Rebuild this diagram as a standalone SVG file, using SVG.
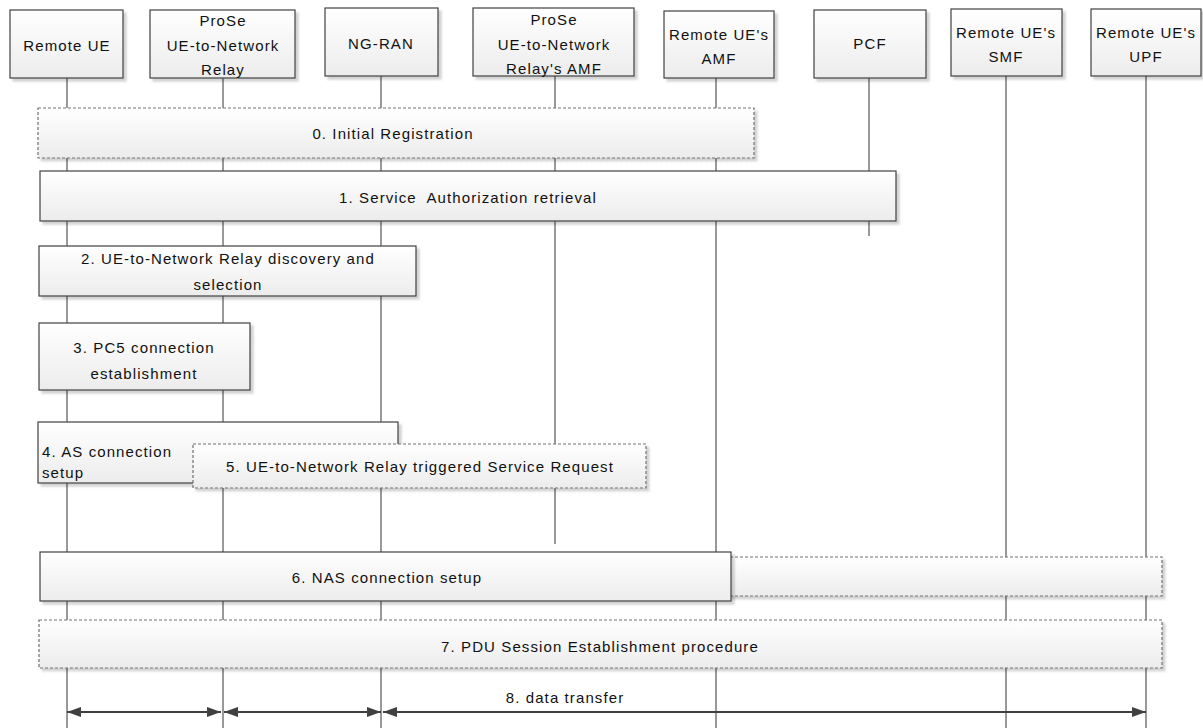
<svg xmlns="http://www.w3.org/2000/svg" width="1203" height="728" viewBox="0 0 1203 728">
<defs>
<linearGradient id="g" x1="0" y1="0" x2="0" y2="1">
<stop offset="0" stop-color="#ffffff"/>
<stop offset="1" stop-color="#ececec"/>
</linearGradient>
<filter id="sh" x="-5%" y="-10%" width="110%" height="130%">
<feDropShadow dx="3" dy="3" stdDeviation="1" flood-color="#000" flood-opacity="0.18"/>
</filter>
<marker id="ah" viewBox="0 0 14 10" refX="14" refY="5" markerWidth="14" markerHeight="10" markerUnits="userSpaceOnUse" orient="auto-start-reverse">
<path d="M0,0 L14,5 L0,10 Z" fill="#404040"/>
</marker>
</defs>
<style>
.box{fill:url(#g);stroke:#404040;stroke-width:1.2;filter:url(#sh)}
.dbox{fill:url(#g);stroke:#707070;stroke-width:1.2;stroke-dasharray:3,2;filter:url(#sh)}
.life{stroke:#555;stroke-width:1.2;fill:none}
.t{font-family:"Liberation Sans",Arial,sans-serif;font-size:15px;fill:#111;text-anchor:middle;dominant-baseline:central;letter-spacing:1.1px}
.tl{text-anchor:start}
.arr{stroke:#404040;stroke-width:2;fill:none;marker-start:url(#ah);marker-end:url(#ah)}
</style>
<rect width="1203" height="728" fill="#fff"/>
<g id="lifelines">
<line class="life" x1="67" y1="78" x2="67" y2="728"/>
<line class="life" x1="223" y1="78" x2="223" y2="728"/>
<line class="life" x1="381" y1="76" x2="381" y2="728"/>
<line class="life" x1="555" y1="76" x2="555" y2="544"/>
<line class="life" x1="716" y1="78" x2="716" y2="728"/>
<line class="life" x1="869" y1="78" x2="869" y2="236"/>
<line class="life" x1="1006" y1="76" x2="1006" y2="728"/>
<line class="life" x1="1146" y1="76" x2="1146" y2="728"/>
</g>
<g id="n_remote_ue"><rect class="box" x="10" y="10" width="113" height="68"/><text class="t" x="67" y="45">Remote UE</text></g>
<g id="n_relay"><rect class="box" x="150" y="10" width="145" height="68"/><text class="t" x="223" y="20">ProSe</text><text class="t" x="223" y="45">UE-to-Network</text><text class="t" x="223" y="69">Relay</text></g>
<g id="n_ngran"><rect class="box" x="325" y="8" width="113" height="68"/><text class="t" x="381" y="43">NG-RAN</text></g>
<g id="n_relay_amf"><rect class="box" x="473" y="8" width="161" height="68"/><text class="t" x="554" y="19">ProSe</text><text class="t" x="554" y="44">UE-to-Network</text><text class="t" x="554" y="68">Relay's AMF</text></g>
<g id="n_remote_amf"><rect class="box" x="664" y="11" width="110" height="67"/><text class="t" x="719" y="34">Remote UE's</text><text class="t" x="719" y="58">AMF</text></g>
<g id="n_pcf"><rect class="box" x="814" y="10" width="112" height="68"/><text class="t" x="870" y="43">PCF</text></g>
<g id="n_smf"><rect class="box" x="951" y="9" width="111" height="67"/><text class="t" x="1006" y="32">Remote UE's</text><text class="t" x="1006" y="56">SMF</text></g>
<g id="n_upf"><rect class="box" x="1091" y="9" width="110" height="67"/><text class="t" x="1146" y="32">Remote UE's</text><text class="t" x="1146" y="56">UPF</text></g>
<g id="s0"><rect class="dbox" x="38" y="108" width="716" height="50"/><text class="t" x="393" y="133">0. Initial Registration</text></g>
<g id="s1"><rect class="box" x="40" y="171" width="856" height="50"/><text class="t" x="468" y="197">1. Service&#160; Authorization retrieval</text></g>
<g id="s2"><rect class="box" x="39" y="246" width="377" height="50"/><text class="t" x="228" y="258">2. UE-to-Network Relay discovery and</text><text class="t" x="228" y="284">selection</text></g>
<g id="s3"><rect class="box" x="39" y="323" width="211" height="67"/><text class="t" x="144" y="347">3. PC5 connection</text><text class="t" x="144" y="373">establishment</text></g>
<g id="s4"><rect class="box" x="38" y="422" width="360" height="61"/><text class="t tl" x="42" y="451">4. AS connection</text><text class="t tl" x="42" y="472">setup</text></g>
<g id="s5"><rect class="dbox" x="193" y="444" width="453" height="44"/><text class="t" x="420" y="466">5. UE-to-Network Relay triggered Service Request</text></g>
<g id="s6"><rect class="dbox" x="720" y="557" width="442" height="39"/><rect class="box" x="40" y="552" width="691" height="49"/><text class="t" x="387" y="577">6. NAS connection setup</text></g>
<g id="s7"><rect class="dbox" x="39" y="620" width="1123" height="48"/><text class="t" x="600" y="646">7. PDU Session Establishment procedure</text></g>
<g id="connectors">
<line class="arr" x1="67" y1="712" x2="221" y2="712"/>
<line class="arr" x1="224" y1="712" x2="381" y2="712"/>
<line class="arr" x1="383" y1="712" x2="1146" y2="712"/>
<text class="t" x="565" y="697">8. data transfer</text>
</g>
</svg>
